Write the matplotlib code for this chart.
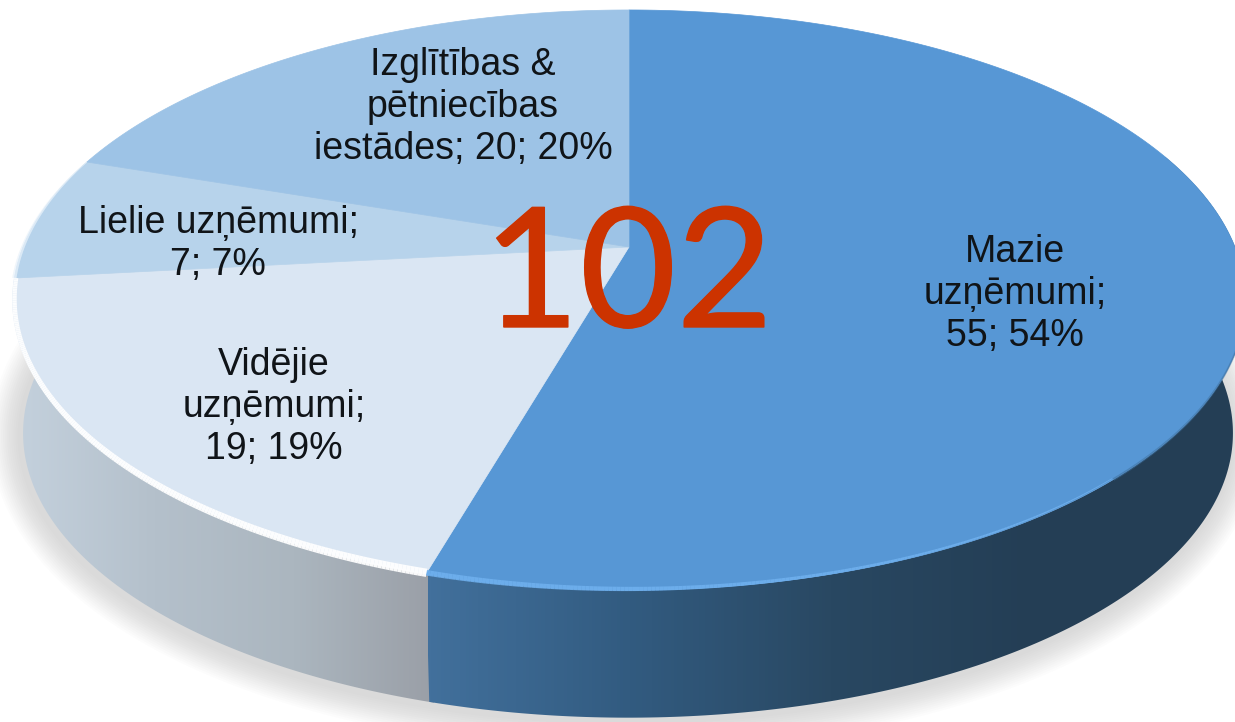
import numpy as np
import matplotlib
matplotlib.use("Agg")
import matplotlib.pyplot as plt
import matplotlib.patheffects as pe
from matplotlib.patches import Polygon
from matplotlib.collections import LineCollection
from matplotlib.colors import LinearSegmentedColormap

# dati
categories = ["Mazie uzņēmumi", "Vidējie uzņēmumi", "Lielie uzņēmumi", "Izglītības & pētniecības iestādes"]
values = [55, 19, 7, 20]
percents = [54, 19, 7, 20]
total_label = "102"
slice_colors = ["#5797D5", "#DAE6F3", "#B7D3EB", "#9DC3E6"]

W, H = 1235, 722
CX, CY = 629, 247
RX, RY, K = 606, 280.4, 0.183
DEPTH = 135
BOTTOM_SCALE = 0.982
BOTTOM_DX = -1


def project(deg, scale=1.0, dy=0.0, dx=0.0):
    # perspektiva: leņķis pulksteņrādītāja virzienā no augšas
    t = np.radians(deg)
    x, y = np.sin(t) * scale, np.cos(t) * scale
    d = 1 + K * y
    return np.column_stack([CX + RX * x / d + dx, CY - RY * y / d + dy])


def arc(a, b, scale=1.0, dy=0.0, dx=0.0):
    return project(np.linspace(a, b, 200), scale, dy, dx)


def rim_line(a, b, w0, w1, color, alpha=1.0, scale=1.0):
    # mala ar mainīgu biezumu
    pts = arc(a, b, scale)
    segs = np.stack([pts[:-1], pts[1:]], axis=1)
    lc = LineCollection(segs, colors=color, linewidths=np.linspace(w0, w1, len(segs)), alpha=alpha, zorder=4, capstyle="butt")
    ax.add_collection(lc)


fig = plt.figure(figsize=(W / 100, H / 100), dpi=100)
ax = fig.add_axes([0, 0, 1, 1])
ax.axis("off")

edges = np.concatenate([[0], np.cumsum(values)]) / sum(values) * 360

# ēna
shadow = arc(0, 360, BOTTOM_SCALE, DEPTH + 3, BOTTOM_DX - 2)
for lw in np.arange(44, 2, -3):
    ax.add_patch(Polygon(shadow, closed=True, fc="none", ec="#666666", lw=lw, alpha=0.016, joinstyle="round"))

# sānu malas ar gradientu (gaišo zīmē pirmo, lai nepaliek sprauga)
side_maps = [
    (edges[1] - 2, 272, ["#C4D1DD", "#B4C0CB", "#ABB6BF", "#9A9FA7"], 15, 434, 2),
    (70, edges[1], ["#42709C", "#325B80", "#294862", "#243E55", "#243E55"], 428, 1235, 2.1),
]
for a, b, cols, x0, x1, z in side_maps:
    poly = np.vstack([arc(a, b), arc(b, a, BOTTOM_SCALE, DEPTH, BOTTOM_DX)])
    cmap = LinearSegmentedColormap.from_list("side", cols)
    grad = np.linspace(0, 1, 256)[None, :]
    im = ax.imshow(grad, extent=[x0, x1, H, 0], cmap=cmap, aspect="auto", zorder=z)
    im.set_clip_path(Polygon(poly, closed=True, transform=ax.transData))

# augšējā virsma
for i, col in enumerate(slice_colors):
    pts = np.vstack([project(np.array([0.0]), 0.0), arc(edges[i], edges[i + 1])])
    ax.add_patch(Polygon(pts, closed=True, fc=col, ec=col, lw=0.5, zorder=3))

# apmales
rim_line(edges[1], edges[2], 6, 3, "white", 0.95, 0.997)
rim_line(edges[2], edges[3], 3, 0.5, "#EAF3FB", 0.9)
rim_line(edges[1], edges[1] - 60, 4, 0.5, "#6FB0EE", 0.9, 0.997)
rim_line(edges[1] - 60, 100, 2, 1, "#3D6E9B", 0.5)

ax.set_xlim(0, W)
ax.set_ylim(H, 0)

# teksti
font = dict(family="Liberation Sans", fontsize=27, color="#101418", ha="center", va="center", linespacing=1.2, zorder=5)
ax.text(1015, 294, f"Mazie\nuzņēmumi;\n{values[0]}; {percents[0]}%", **font)
ax.text(274, 407, f"Vidējie\nuzņēmumi;\n{values[1]}; {percents[1]}%", **font)
ax.text(218, 244, f"Lielie uzņēmumi;\n{values[2]}; {percents[2]}%", **font)
ax.text(463, 107, f"Izglītības &\npētniecības\niestādes; {values[3]}; {percents[3]}%", **font)

ax.text(628, 280, total_label, family="Lato", fontsize=120, color="#CC3300", ha="center", va="center", zorder=6,
        path_effects=[pe.withStroke(linewidth=1, foreground="#CC3300")])

fig.savefig("out.png", dpi=100)
